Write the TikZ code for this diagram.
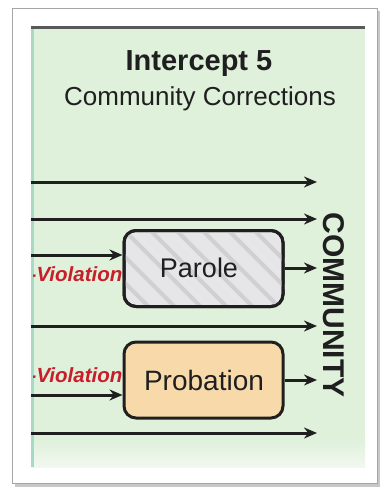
\documentclass[tikz,border=0pt]{standalone}
\usepackage{fontspec}
\setmainfont{Liberation Sans}
\usetikzlibrary{arrows.meta}
\definecolor{panelgreen}{HTML}{DFF0DB}
\definecolor{panelfade}{HTML}{F1F8EF}
\definecolor{edgeteal}{HTML}{A6D9C6}
\definecolor{inkdark}{HTML}{1F1F1F}
\definecolor{violred}{HTML}{C81E2A}
\definecolor{parolefill}{HTML}{E6E6E9}
\definecolor{parolestripe}{HTML}{D0D0D3}
\definecolor{probfill}{HTML}{F8DAAA}
\tikzset{
  flow/.style={line width=3pt, draw=inkdark, -{Stealth[length=13pt,width=11pt]}},
  stagebox/.style={draw=inkdark, line width=3pt, rounded corners=12pt,
    minimum width=159pt, minimum height=76pt, inner sep=0pt},
  violation/.style={text=violred, font=\fontsize{20.5}{20.5}\selectfont\bfseries\itshape,
    inner sep=0pt, anchor=base west},
}
\begin{document}
\begin{tikzpicture}[x=1pt,y=-1pt]
\useasboundingbox (0,0) rectangle (385,490);

% card with drop shadow
\fill[black!22] (15,11) rectangle (380,487);
\fill[white, draw=black!35, line width=1pt] (12,8) rectangle (377,483);

% green panel
\fill[panelgreen] (31,27) rectangle (365,467);
\shade[top color=panelgreen, bottom color=panelfade] (31,438) rectangle (365,467);
\fill[edgeteal] (31,27) rectangle (33.5,467);
\fill[black!65] (31,25.5) rectangle (365,29);

% titles
\node[text=inkdark, font=\fontsize{29}{29}\selectfont\bfseries, anchor=base] (title) at (199,70) {Intercept 5};
\node[text=inkdark, font=\fontsize{26}{26}\selectfont, anchor=base] (subtitle) at (200,105) {Community Corrections};

% stage boxes
\node[stagebox, fill=parolefill] (parole) at (203.5,268.5) {};
\begin{scope}
  \clip[rounded corners=12pt] (parole.south west) rectangle (parole.north east);
  \foreach \k in {-4,...,8} {
    \draw[parolestripe, line width=4pt] ({124+\k*26},230) -- ++(80,80);
  }
\end{scope}
\node[stagebox] (paroleframe) at (203.5,268.5) {};
\node[text=inkdark, font=\fontsize{27}{27}\selectfont, anchor=base] (paroletext) at (199,277) {Parole};

\node[stagebox, fill=probfill] (probation) at (203.5,380) {};
\node[text=inkdark, font=\fontsize{28}{28}\selectfont, anchor=base] (probtext) at (204,390) {Probation};

% flows into the community
\coordinate (s1) at (31,182);  \coordinate (e1) at (317,182);
\coordinate (s2) at (31,219);  \coordinate (e2) at (317,219);
\coordinate (s3) at (31,326);  \coordinate (e3) at (317,326);
\coordinate (s4) at (31,433);  \coordinate (e4) at (317,433);
\coordinate (pin) at (31,255); \coordinate (pout) at (317,268);
\coordinate (bin) at (31,395); \coordinate (bout) at (317,380);

\draw[flow] (s1) -- (e1);
\draw[flow] (s2) -- (e2);
\draw[flow] (s3) -- (e3);
\draw[flow] (s4) -- (e4);
\draw[flow] (pin) -- (parole.west |- pin);
\draw[flow] (parole.east |- pout) -- (pout);
\draw[flow] (bin) -- (probation.west |- bin);
\draw[flow] (probation.east |- bout) -- (bout);

% violation labels, cut at the panel edge
\begin{scope}
  \clip (33.5,27) rectangle (365,467);
  \node[violation] (viol1) at (29.5,281) {-Violation};
  \node[violation] (viol2) at (29.5,382) {-Violation};
\end{scope}

% destination
\node[text=inkdark, font=\fontsize{30}{30}\selectfont\bfseries, rotate=-90] (community) at (334,305) {COMMUNITY};
\end{tikzpicture}
\end{document}
